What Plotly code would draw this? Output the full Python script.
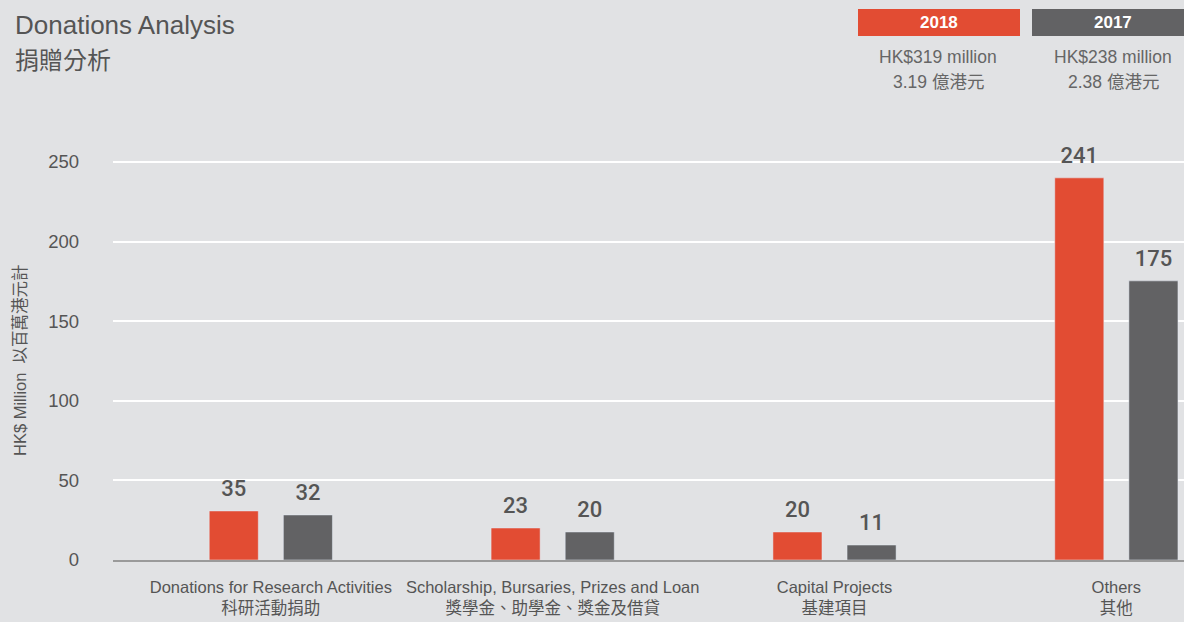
import plotly.graph_objects as go

# ---- data ----
categories = [
    "Donations for Research Activities<br>科研活動捐助",
    "Scholarship, Bursaries, Prizes and Loan<br>獎學金、助學金、獎金及借貸",
    "Capital Projects<br>基建項目",
    "Others<br>其他",
]
bars_2018 = [30.8, 20.1, 17.6, 240]
bars_2017 = [28.3, 17.6, 9.4, 175.3]
labels_2018 = ["35", "23", "20", "241"]
labels_2017 = ["32", "20", "11", "175"]
y_ticks = [0, 50, 100, 150, 200, 250]

RED = "#e24c33"
GREY = "#626264"
BG = "#e1e2e4"
TXT = "#555555"
FONT = "Liberation Sans, Noto Sans CJK TC, sans-serif"
LABEL_FONT = dict(size=22, color=TXT, family="Roboto, Liberation Sans, sans-serif", weight=500)

# plot area in pixels
L, R, T, B = 113, 1184, 146, 560
W, H = R - L, B - T


def px(x):
    return (x - L) / W


def py(y):
    return (B - y) / H


fig = go.Figure()
for name, vals, labs, col in [("2018", bars_2018, labels_2018, RED),
                              ("2017", bars_2017, labels_2017, GREY)]:
    fig.add_trace(go.Bar(
        x=categories, y=vals, name=name, marker_color=col,
        offsetgroup=name,
    ))
    fig.add_trace(go.Scatter(
        x=categories, y=vals, name=name, mode="markers+text",
        offsetgroup=name, text=labs, textposition="top center",
        marker=dict(size=14, opacity=0), textfont=LABEL_FONT,
        cliponaxis=False, hoverinfo="skip",
    ))

annotations = [
    dict(text="Donations Analysis", x=px(13), y=py(25), xanchor="left", yanchor="middle",
         font=dict(size=26, color=TXT)),
    dict(text="捐贈分析", x=px(13), y=py(61), xanchor="left", yanchor="middle",
         font=dict(size=24, color=TXT)),
    dict(text="<b>2018</b>", x=px(939), y=py(22), xanchor="center", yanchor="middle",
         font=dict(size=17, color="white")),
    dict(text="<b>2017</b>", x=px(1113), y=py(22), xanchor="center", yanchor="middle",
         font=dict(size=17, color="white")),
    dict(text="HK$319 million", x=px(938), y=py(57), xanchor="center", yanchor="middle",
         font=dict(size=17.5, color="#666666")),
    dict(text="3.19 億港元", x=px(938), y=py(82), xanchor="center", yanchor="middle",
         font=dict(size=17.5, color="#666666")),
    dict(text="HK$238 million", x=px(1113), y=py(57), xanchor="center", yanchor="middle",
         font=dict(size=17.5, color="#666666")),
    dict(text="2.38 億港元", x=px(1113), y=py(82), xanchor="center", yanchor="middle",
         font=dict(size=17.5, color="#666666")),
    dict(text="HK$ Million  以百萬港元計", x=px(20), y=py(360), xanchor="center", yanchor="middle",
         textangle=-90, font=dict(size=16.5, color=TXT)),
]
for a in annotations:
    a.update(xref="paper", yref="paper", showarrow=False)

shapes = [
    dict(type="rect", xref="paper", yref="paper", x0=px(858), x1=px(1020), y0=py(36), y1=py(9),
         fillcolor=RED, line_width=0, layer="below"),
    dict(type="rect", xref="paper", yref="paper", x0=px(1032), x1=px(1200), y0=py(36), y1=py(9),
         fillcolor=GREY, line_width=0, layer="below"),
]

fig.update_layout(
    width=1184, height=622,
    margin=dict(l=L, r=1184 - R, t=T, b=622 - B, pad=0),
    paper_bgcolor=BG, plot_bgcolor=BG,
    font=dict(family=FONT, color=TXT),
    showlegend=False,
    barmode="group", bargap=0.474, bargroupgap=0.338,
    scattermode="group", scattergap=0.474,
    annotations=annotations, shapes=shapes,
)
fig.update_xaxes(
    type="category", range=[-0.56, 3.24],
    showline=True, linecolor="#9a9a9a", linewidth=2,
    showgrid=False, ticks="",
    tickfont=dict(size=16.5, color=TXT),
    ticklabelstandoff=11,
)
fig.update_yaxes(
    range=[0, 260], tickvals=y_ticks,
    showgrid=True, gridcolor="white", gridwidth=2,
    zeroline=False, showline=False, ticks="",
    tickfont=dict(size=18.5, color=TXT),
    ticklabelstandoff=33,
)

fig.write_html("out.html")
